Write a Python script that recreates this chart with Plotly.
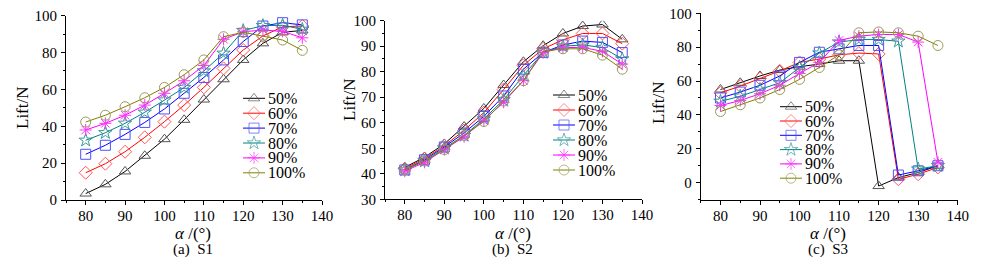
import plotly.graph_objects as go

angles = [80, 85, 90, 95, 100, 105, 110, 115, 120, 125, 130, 135]
series_names = ["50%", "60%", "70%", "80%", "90%", "100%"]

# (a) S1
s1_50 = [3.5, 8.5, 15.5, 24, 33, 43.5, 54.5, 65.5, 76, 85, 91, 92]
s1_60 = [14.8, 19.7, 26.2, 34, 42.5, 51.5, 61.1, 71.4, 81.4, 89, 94, 94.4]
s1_70 = [24.8, 29.7, 35.6, 42.1, 49.4, 57.9, 66.5, 76, 86, 94.4, 96.2, 95]
s1_80 = [32.4, 36.5, 41.6, 47.6, 54.2, 61, 70, 79.6, 91.9, 94.6, 94.8, 92.6]
s1_90 = [38, 41.6, 46, 51.5, 57.9, 64.7, 73, 87.2, 91.3, 92.2, 91.5, 88]
s1_100 = [42.3, 46, 50.6, 55.5, 61.1, 68, 76, 88.6, 91, 89, 86.8, 81.2]

# (b) S2
s2_50 = [42.5, 46.5, 51.7, 58.5, 65.6, 74.8, 83.9, 90.2, 95, 97.9, 98.5, 92.7]
s2_60 = [42, 46, 51, 57, 64, 73, 82.5, 89, 92.5, 95, 95, 91]
s2_70 = [41.5, 45.5, 50.5, 56, 62.5, 70.5, 81, 87.5, 90.5, 92, 91.5, 87.5]
s2_80 = [41.5, 45, 50, 55, 61.5, 69, 78.5, 87.5, 90, 90.5, 89.5, 85]
s2_90 = [41, 44.5, 49.5, 54.5, 61, 68, 76.5, 87.5, 89.5, 89.5, 88, 83]
s2_100 = [41.5, 45, 49.5, 55, 60.5, 68.5, 76.5, 88, 89, 89, 86.5, 81]

# (c) S3
s3_50 = [55, 59, 63, 66.5, 68.5, 70, 72, 72, -2, 3, 6, 10]
s3_60 = [53, 57, 61.5, 66, 71, 73, 75.5, 76.5, 76, 2, 5, 9]
s3_70 = [50, 53.5, 57.5, 63, 71, 77, 79, 81, 81, 4.5, 7, 10]
s3_80 = [48, 51, 55, 59, 68, 76.5, 83, 84.5, 84.5, 83.5, 8, 10]
s3_90 = [45.5, 48.5, 52.5, 57.5, 64.5, 71, 84, 86.5, 87.5, 87.5, 83, 12]
s3_100 = [42, 46, 50, 55, 61, 68, 75.5, 88.5, 89, 88.5, 86.5, 81]

x_ticks = [80, 90, 100, 110, 120, 130, 140]

panels = [
    ([s1_50, s1_60, s1_70, s1_80, s1_90, s1_100], "(a)  S1"),
    ([s2_50, s2_60, s2_70, s2_80, s2_90, s2_100], "(b)  S2"),
    ([s3_50, s3_60, s3_70, s3_80, s3_90, s3_100], "(c)  S3"),
]

line_colors = ["#000000", "#FF0000", "#0000FF", "#008080", "#FF00FF", "#808000"]
marker_colors = ["#555555", "#FF5A5A", "#5050FF", "#3A9A9A", "#FF33FF", "#9A9A5A"]
symbols = ["triangle-up-open", "diamond-open", "square-open", "star-open",
           "asterisk-open", "circle-open"]

FONT = "Times New Roman, Liberation Serif, serif"
OFF = 8            # page body margin offset
W, H = 969, 249    # figure size so page fits the 985x265 window
fig = go.Figure()

for p, (series, cap) in enumerate(panels):
    ax = "" if p == 0 else str(p + 1)
    for i, ys in enumerate(series):
        fig.add_trace(go.Scatter(
            x=angles, y=ys, mode="lines+markers", name=series_names[i],
            xaxis="x" + ax, yaxis="y" + ax, showlegend=False,
            line=dict(color=line_colors[i], width=1),
            marker=dict(symbol=symbols[i], size=10, color=marker_colors[i],
                        line=dict(color=marker_colors[i], width=1)),
        ))


def px_x(v):
    return (v - OFF) / W


def px_y(v):
    return 1 - (v - OFF) / H


# legend keys (custom legend in window-pixel space on a hidden overlay axis)
legend_left = [243, 553, 780]
legend_top = [98.3, 95, 106.7]
legend_step = [14.9, 15, 14.3]
key_len = 22
for p in range(3):
    for i, name in enumerate(series_names):
        yy = legend_top[p] + i * legend_step[p]
        x0 = legend_left[p]
        fig.add_trace(go.Scatter(
            x=[x0, x0 + key_len / 2, x0 + key_len], y=[yy, yy, yy],
            mode="lines+markers", xaxis="x4", yaxis="y4", showlegend=False,
            hoverinfo="skip", cliponaxis=False,
            line=dict(color=line_colors[i], width=1),
            marker=dict(symbol=symbols[i], size=[0, 10, 0], color=marker_colors[i],
                        line=dict(color=marker_colors[i], width=1)),
        ))
        fig.add_annotation(x=x0 + key_len + 1, y=yy, xref="x4", yref="y4",
                           text=name, showarrow=False, xanchor="left",
                           yanchor="middle",
                           font=dict(family=FONT, size=16, color="black"))

x_domains = [[66, 322], [385, 642], [700.7, 957.7]]
y_pix = [[200, 15.7], [199.3, 20.7], [199.6, 13.3]]
y_ranges = [[0, 100], [30, 100], [-10, 100]]
y_dticks = [20, 10, 20]
y_minor = [10, 5, 10]

axis_common = dict(
    showline=True, linecolor="black", linewidth=1, ticks="outside",
    ticklen=4, tickcolor="black", showgrid=False, zeroline=False,
    ticklabeloverflow="allow",
    tickfont=dict(family=FONT, size=15, color="black"),
)

layout = dict(
    width=W, height=H, margin=dict(l=0, r=0, t=0, b=0, autoexpand=False),
    paper_bgcolor="white", plot_bgcolor="rgba(0,0,0,0)", showlegend=False,
    font=dict(family=FONT, color="black"),
)

for p in range(3):
    ax = "" if p == 0 else str(p + 1)
    layout["xaxis" + ax] = dict(
        axis_common, domain=[px_x(x_domains[p][0]), px_x(x_domains[p][1])],
        range=[75, 140], tickvals=x_ticks, anchor="y" + ax,
        ticklabelstandoff=-2,
        minor=dict(ticks="outside", ticklen=2, dtick=5, tick0=75, tickcolor="black"),
    )
    layout["yaxis" + ax] = dict(
        axis_common, domain=[px_y(y_pix[p][0]), px_y(y_pix[p][1])],
        range=y_ranges[p], dtick=y_dticks[p], anchor="x" + ax,
        ticklabelstandoff=1,
        minor=dict(ticks="outside", ticklen=2, dtick=y_minor[p], tickcolor="black"),
    )

# hidden overlay axis whose units are window pixels
layout["xaxis4"] = dict(domain=[0, 1], range=[OFF, OFF + W], visible=False,
                        anchor="y4", fixedrange=True)
layout["yaxis4"] = dict(domain=[0, 1], range=[OFF + H, OFF], visible=False,
                        anchor="x4", fixedrange=True)

fig.update_layout(**layout)

ylab_x = [22, 350, 658]
ylab_y = [108, 100, 103]
xlab_x = [193, 513, 828]
for p in range(3):
    fig.add_annotation(x=px_x(ylab_x[p]), y=px_y(ylab_y[p]), xref="paper", yref="paper",
                       text="Lift/N", textangle=-90, showarrow=False,
                       xanchor="center", yanchor="middle",
                       font=dict(family=FONT, size=17, color="black"))
    fig.add_annotation(x=px_x(xlab_x[p]), y=px_y(233), xref="paper", yref="paper",
                       text="<i>α</i> /(°)", showarrow=False,
                       xanchor="center", yanchor="middle",
                       font=dict(family=FONT, size=17, color="black"))
    fig.add_annotation(x=px_x(xlab_x[p]), y=px_y(249), xref="paper", yref="paper",
                       text=panels[p][1], showarrow=False,
                       xanchor="center", yanchor="middle",
                       font=dict(family=FONT, size=15, color="black"))

fig.write_html("out.html")
